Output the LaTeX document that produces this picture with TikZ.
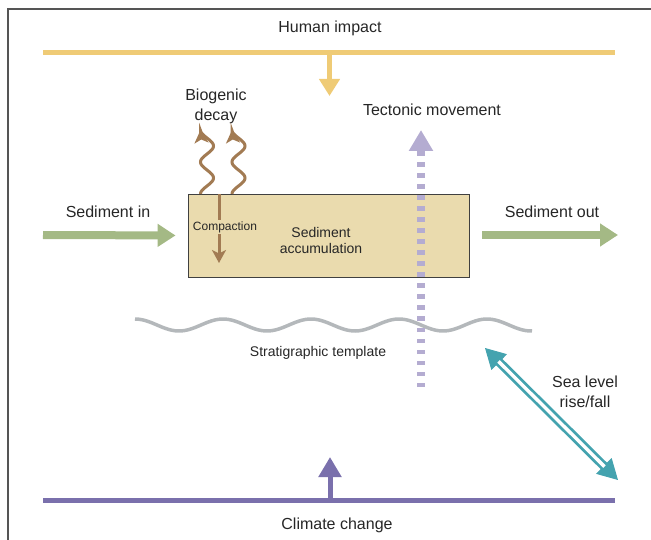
\documentclass[tikz,border=0pt]{standalone}
\usepackage{fontspec}
\setmainfont{Liberation Sans}
\usetikzlibrary{arrows.meta}
\definecolor{yel}{HTML}{EFCB76}
\definecolor{pur}{HTML}{7A70AC}
\definecolor{grn}{HTML}{A4B985}
\definecolor{boxc}{HTML}{EADBAE}
\definecolor{brn}{HTML}{A27B53}
\definecolor{lav}{HTML}{B4ACD1}
\definecolor{wavc}{HTML}{B4B8BB}
\definecolor{tea}{HTML}{44A3AF}
\definecolor{framec}{HTML}{555555}
\tikzset{
  lab/.style={font=\fontsize{16}{20}\selectfont, align=center, inner sep=0pt, text=black!85},
  midlab/.style={font=\fontsize{14}{16}\selectfont, align=center, inner sep=0pt, text=black!85},
  smalllab/.style={font=\fontsize{12}{14}\selectfont, inner sep=1pt, text=black!85},
  flow/.style={grn, line width=8pt, -{Triangle[width=22pt,length=18pt]}},
  brnarrow/.style={brn, line width=3pt, -{Stealth[width=14pt,length=13pt,inset=3.5pt]}},
}
\begin{document}
\begin{tikzpicture}[x=1pt,y=-1pt]
\useasboundingbox (0,0) rectangle (651,540);
% frame
\draw[framec, line width=1.3pt] (8,545) -- (8,9) -- (660,9);
% Human impact
\node[lab] (hum) at (330,28.5) {Human impact};
\coordinate (yl) at (43,52.5);
\coordinate (yr) at (615,52.5);
\coordinate (ytop) at (329.5,52.5);
\coordinate (ytip) at (329.5,96);
\draw[yel, line width=5pt] (yl) -- (yr);
\draw[yel, line width=4.5pt, -{Triangle[width=20pt,length=17pt]}] (ytop) -- (ytip);
% Climate change
\node[lab] (clim) at (337,525.5) {Climate change};
\coordinate (pl) at (43,500);
\coordinate (pr) at (615,500);
\coordinate (pbot) at (330,500);
\coordinate (ptip) at (330,457);
\draw[pur, line width=5pt] (pl) -- (pr);
\draw[pur, line width=5pt, -{Triangle[width=22pt,length=20pt]}] (pbot) -- (ptip);
% Box
\node[draw=black!75, line width=0.9pt, fill=boxc, minimum width=281pt, minimum height=83pt, inner sep=0pt] (box) at (328.5,235.5) {};
\node[midlab] (acc) at (321,240) {Sediment\\accumulation};
% Sediment in/out
\node[lab] (sedin) at (108,211.5) {Sediment in};
\node[lab] (sedout) at (552,211.5) {Sediment out};
\coordinate (inS) at (43,235);
\draw[flow, shorten >=12pt] (inS) -- (box.west);
\coordinate (outS) at (482,235);
\coordinate (outE) at (618,235);
\draw[flow] (outS) -- (outE);
% Compaction
\coordinate (cTop) at (219,194);
\coordinate (cTip) at (219,263);
\draw[brnarrow] (cTop) -- (cTip);
\node[smalllab, fill=boxc] (comp) at (225,227) {Compaction};
% Biogenic decay
\node[lab] (bio) at (216,106) {Biogenic\\decay};
\draw[brnarrow] plot[domain=194:130, samples=65, smooth] ({207-6.5*cos(11.25*(194-\x))}, \x);
\draw[brnarrow] plot[domain=194:130, samples=65, smooth] ({238.5-6.5*cos(11.25*(194-\x))}, \x);
% Tectonic movement
\node[lab] (tect) at (432,109.5) {Tectonic movement};
\coordinate (tBot) at (421,387);
\coordinate (tTip) at (421,130);
% Stratigraphic template
\draw[wavc, line width=3.5pt] plot[domain=135:532, samples=120, smooth] (\x, {325-6*cos(4.0909*(\x-135))});
\node[midlab] (strat) at (318,353) {Stratigraphic template};
\draw[lav, line width=8pt, dash pattern=on 4.5pt off 6.5pt, -{Triangle[width=23pt,length=21pt]}] (tBot) -- (tTip);
% Sea level
\node[lab] (sea) at (585,392) {Sea level\\rise/fall};
\coordinate (sA) at (485,348);
\coordinate (sB) at (618,480);
\draw[tea, line width=1pt, {Triangle[width=22pt,length=20pt]}-{Triangle[width=22pt,length=20pt]}] (sA) -- (sB);
\draw[tea, line width=2.8pt, double=white, double distance=3.4pt, shorten <=19pt, shorten >=19pt] (sA) -- (sB);
\end{tikzpicture}
\end{document}
